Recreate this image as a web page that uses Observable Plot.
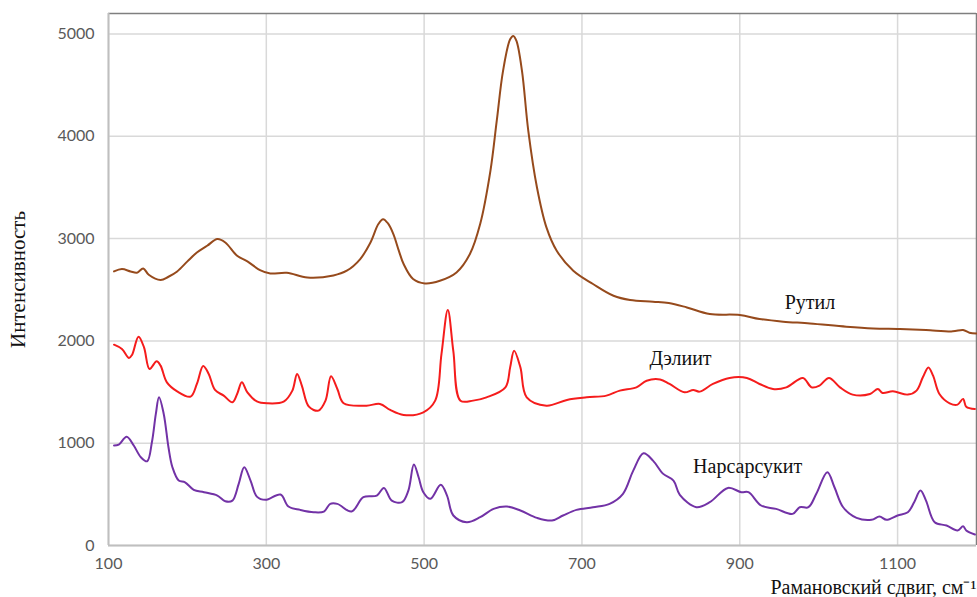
<!DOCTYPE html>
<html>
<head>
<meta charset="utf-8">
<script src="https://cdn.jsdelivr.net/npm/d3@7"></script>
<script src="https://cdn.jsdelivr.net/npm/@observablehq/plot@0.6"></script>
<style>
  html, body { margin: 0; padding: 0; background: #fff; }
  #chart svg { display: block; }
</style>
</head>
<body>
<div id="chart"></div>
<script>
// ---- Data ----
const rutilX = [107,117,128,136,144,151,166,176,187,200,212,225,238,248,263,276,292,305,326,352,385,402,419,432,442,448,454,461,468,474,486,501,520,541,558,571,584,592,600,609,613,617,624,632,643,655,668,689,714,740,761,790,810,833,862,900,925,955,989,1035,1069,1103,1136,1170,1183,1191,1200];
const rutilY = [2679,2702,2679,2666,2708,2646,2595,2627,2679,2777,2864,2930,2995,2962,2832,2777,2692,2659,2666,2620,2640,2686,2800,2962,3142,3190,3150,3044,2880,2751,2605,2562,2588,2669,2849,3142,3662,4150,4639,4948,4981,4932,4639,4053,3499,3109,2881,2686,2556,2441,2399,2383,2370,2327,2263,2253,2214,2188,2171,2139,2122,2116,2106,2093,2106,2080,2073];

const daelitX = [107,117,126,130,138,145,152,161,166,174,187,204,212,220,227,235,246,257,263,269,276,288,301,322,333,339,345,354,366,375,382,390,398,427,444,457,474,499,514,522,530,537,546,562,579,603,609,614,622,630,655,681,706,731,748,769,782,799,811,830,841,849,866,887,909,925,942,959,980,991,1001,1013,1027,1043,1065,1075,1081,1094,1113,1124,1132,1139,1145,1153,1166,1176,1183,1187,1198];
const daelitY = [1963,1921,1833,1865,2041,1937,1726,1800,1758,1595,1507,1455,1579,1755,1677,1520,1465,1400,1481,1595,1497,1409,1390,1406,1514,1677,1563,1357,1318,1416,1654,1530,1390,1367,1384,1325,1276,1302,1416,1872,2302,1900,1416,1416,1448,1546,1741,1904,1741,1448,1367,1423,1448,1465,1514,1546,1611,1623,1579,1497,1521,1504,1579,1638,1638,1579,1530,1546,1638,1546,1563,1638,1546,1475,1481,1530,1491,1507,1475,1514,1644,1741,1660,1481,1390,1377,1433,1357,1335];

const narsX = [107,113,123,132,141,149,155,160,164,170,176,181,189,197,208,221,238,248,257,265,272,280,288,299,318,328,343,360,373,381,390,408,423,440,449,459,472,480,487,493,499,508,521,529,537,554,571,588,605,622,643,662,676,693,714,735,752,765,778,790,803,816,824,845,862,885,902,911,927,946,967,976,987,997,1011,1020,1031,1048,1067,1077,1086,1100,1113,1121,1129,1136,1147,1162,1176,1183,1187,1198];
const narsY = [977,986,1064,977,863,823,1009,1286,1449,1286,960,765,635,618,544,521,488,433,439,602,765,635,478,446,498,381,348,325,332,407,407,332,472,488,563,439,423,537,791,667,521,456,593,488,293,228,277,358,381,342,270,244,293,348,374,407,505,732,901,830,700,635,495,374,423,563,521,521,391,358,309,374,374,505,716,569,374,270,251,283,251,293,325,423,537,439,228,195,147,188,147,107];

const seriesNames = ["Рутил", "Дэлиит", "Нарсарсукит"];
const seriesColors = ["#964a1c", "#f51c1c", "#7232a6"];
const labelX = [989, 825, 910];
const labelY = [2373, 1826, 771];

const xTicks = [100, 300, 500, 700, 900, 1100];
const yTicks = [0, 1000, 2000, 3000, 4000, 5000];
const xLabel = "Рамановский сдвиг, см⁻¹";
const yLabel = "Интенсивность";

// ---- Build rows ----
const rows = [];
[[rutilX, rutilY], [daelitX, daelitY], [narsX, narsY]].forEach(([xs, ys], i) => {
  xs.forEach((x, j) => rows.push({series: seriesNames[i], x, y: ys[j]}));
});
const labels = seriesNames.map((s, i) => ({series: s, x: labelX[i], y: labelY[i]}));

const W = 977, H = 597;
const serif = "'Liberation Serif', 'Times New Roman', serif";
const sans = "Lato, 'Open Sans', sans-serif";
const chart = Plot.plot({
  width: W,
  height: H,
  marginLeft: 108,
  marginRight: 1,
  marginTop: 13,
  marginBottom: 52,
  style: {background: "#fff", overflow: "visible"},
  x: {domain: [100, 1200], ticks: xTicks, label: null},
  y: {domain: [0, 5200], ticks: yTicks, label: null},
  color: {domain: seriesNames, range: seriesColors},
  marks: [
    Plot.gridX(xTicks, {stroke: "#d9d9d9", strokeOpacity: 1, strokeWidth: 1.5}),
    Plot.gridY(yTicks, {stroke: "#d9d9d9", strokeOpacity: 1, strokeWidth: 1.5}),
    Plot.ruleY([5200], {stroke: "#7f7f7f", strokeWidth: 1.5}),
    Plot.ruleX([1200], {stroke: "#7f7f7f", strokeWidth: 1.5}),
    Plot.ruleX([100], {stroke: "#bfbfbf", strokeWidth: 2}),
    Plot.ruleY([0], {stroke: "#bfbfbf", strokeWidth: 2}),
    Plot.axisX({ticks: xTicks, tickFormat: d => String(d), tickSize: 0, tickPadding: 12, fontSize: 16, fontFamily: sans, fill: "#595959", label: null}),
    Plot.axisY({ticks: yTicks, tickFormat: d => String(d), tickSize: 0, tickPadding: 14, fontSize: 16, fontFamily: sans, fill: "#595959", label: null}),
    Plot.line(rows, {x: "x", y: "y", z: "series", stroke: "series", strokeWidth: 2, curve: "catmull-rom"}),
    Plot.text(labels, {x: "x", y: "y", text: "series", fontSize: 20, fontFamily: serif, fill: "#111"}),
    Plot.text([xLabel], {frameAnchor: "bottom-right", dy: 48, dx: 0, textAnchor: "end", lineAnchor: "bottom", fontSize: 20, fontFamily: serif, fill: "#111"}),
    Plot.text([yLabel], {frameAnchor: "left", textAnchor: "middle", dx: -90, rotate: -90, fontSize: 21, fontFamily: serif, fill: "#111"})
  ]
});
document.getElementById("chart").appendChild(chart);
</script>
</body>
</html>
